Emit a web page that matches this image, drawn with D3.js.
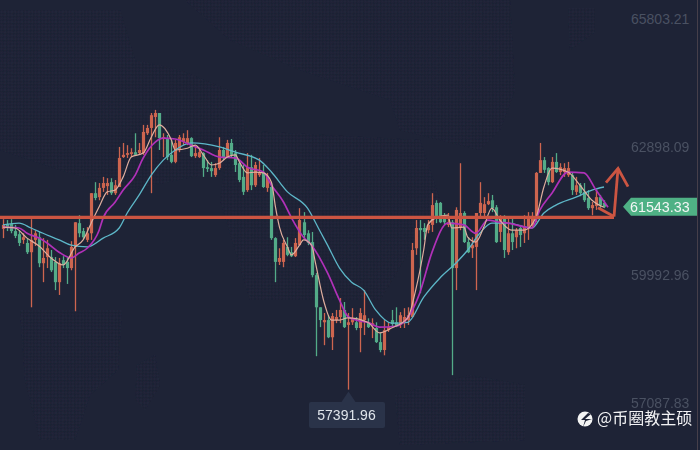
<!DOCTYPE html>
<html><head><meta charset="utf-8">
<style>html,body{margin:0;padding:0;background:#1e2336;overflow:hidden}svg{display:block}</style>
<script src="https://cdn.jsdelivr.net/npm/d3@7"></script></head><body>
<svg id="c" width="700" height="450"></svg>
<script>
const opens=[61040,61150,61150,60990,60920,60790,60720,60510,60790,60850,60260,60400,60400,60290,59830,60330,60290,60150,60630,61170,60990,60790,60940,61850,61760,61970,62010,62100,61850,61990,62670,62720,62740,62780,62760,62760,63210,63330,63580,63670,63080,63100,62720,62560,62830,63010,62990,63100,62690,62670,62760,62440,62420,62260,62420,62830,62670,62990,62760,62530,62220,61920,62440,62030,62260,62310,61970,61990,60830,60290,60290,60630,60510,60420,60670,61190,60940,60740,59990,59260,58920,58970,58580,58970,59040,59200,58860,58920,58920,58790,58970,58920,58860,58790,58470,58290,58740,58970,58920,58860,58920,58970,59040,60600,61060,61060,61010,61130,61630,61630,61280,61130,61190,60150,61080,61400,60740,60600,60630,61400,61400,61600,61690,61530,60970,61280,60510,60940,60850,61060,60940,61060,61100,61280,62310,62600,62420,62100,62560,62330,62330,62260,62260,61880,62030,61880,61740,61510,61560,61760,61630];
const highs=[61260,61240,61260,61130,61010,60940,60830,61260,61010,60970,60830,60790,60560,60400,60380,60420,60400,60760,61190,61350,61060,61080,61850,62100,62080,62220,62190,62190,62150,62900,62990,62940,62870,63210,62990,63400,63400,63670,63740,63670,63210,63170,63060,63060,63170,63210,63280,63120,62900,62870,62780,62600,62560,62530,63120,62900,63060,63080,62830,62560,62490,62760,62720,62560,62650,62490,62310,62080,60850,60600,60790,60850,60630,60830,61510,61420,61010,60970,60040,59260,59130,59080,59130,59200,59470,59380,59130,59240,59040,59240,59650,59010,59010,58920,58680,58970,58920,59200,59260,59150,59240,59260,60720,61240,61240,61170,61240,61850,61690,61650,61400,61400,61240,61530,62530,61440,60850,60850,61400,62100,61760,61850,61810,61580,61350,61350,61280,61280,61060,61130,61350,61420,61420,62330,62990,62670,62440,62670,62760,62530,62530,62560,62310,62220,62080,62080,61920,61650,61920,61810,61690];
const lows=[60830,60990,60940,60830,60650,60700,60470,59260,60650,60170,59830,60150,60060,59650,59540,60150,59790,60100,59170,60850,60810,60740,60790,61690,61690,61880,61810,61810,61810,61990,62650,62650,62670,62720,62720,62720,63170,61850,63120,62830,62670,62600,62530,62530,62780,62940,62940,62670,62650,62650,62220,62330,62220,62220,62380,62600,62650,62650,62330,62100,61810,61880,61920,61990,62220,61970,61880,60790,59830,60220,60170,60420,60400,60400,60670,60830,60670,59940,58150,58810,58400,58560,58290,58900,58900,58790,57391.96,58860,58740,58240,58630,58790,58560,58450,58240,58170,58700,58810,58810,58790,58790,58860,59020,60450,59580,60790,60940,60970,61170,61170,61150,61080,57720,59650,61010,60720,60490,60380,59650,61310,61310,61580,61420,60720,60740,60380,60450,60560,60600,60630,60720,60790,61060,61190,62310,62310,62030,62080,62310,62260,62220,62220,61810,61810,61780,61650,61470,61350,61470,61510,61510];
const closes=[61130,61060,60990,60880,60720,60850,60510,60790,60940,60260,60380,60600,60100,59830,60260,60220,60150,60630,61190,60940,60850,60940,61850,61740,61970,62080,62080,61850,62030,62650,62720,62760,62780,62720,62830,63240,63330,63620,63670,63100,63120,62670,62560,62990,63120,63100,63100,62690,62760,62780,62420,62400,62350,62420,62830,62670,62990,62720,62490,62150,61880,62440,62030,62490,62330,61990,62220,60830,60290,60380,60720,60450,60420,60720,61240,60900,60720,59990,59260,58970,58970,58580,59060,59040,59200,58810,58920,58990,58790,59130,59080,58810,58900,58470,58290,58740,58810,58880,58830,59080,59040,59080,60560,61060,61010,60970,61130,61580,61280,61190,61190,61190,60150,61470,61400,60740,60510,60670,61400,61630,61600,61670,61510,60740,61280,60560,60940,60740,61010,60900,61080,61280,61280,62310,62600,62380,62100,62560,62330,62440,62420,62420,61920,62030,61850,61690,61510,61580,61760,61580,61543.33];

const fastIdx=[0,3,6,9,12,15,18,20,22,24,26,28,30,32,35,37,39,42,43,46,48,50,52,54,56,58,59,61,63,65,67,68,69,71,72,74,75,77,78,80,82,84,86,91,94,97,101,103,105,106,108,111,112,115,116,118,120,122,124,127,130,133,135,137,141,144,147,150];
const fastVal=[61080,61060,60830,60650,60380,60220,60630,60790,61170,61540,61880,61920,62220,62670,62760,63120,63400,63060,62830,62870,62940,62720,62490,62530,62670,62720,62560,62310,62330,62310,62100,61540,61080,60630,60450,60670,60790,60670,60260,59420,58970,58970,59020,58920,58680,58790,59020,59650,60560,61130,61290,61350,61060,61080,60850,60740,61080,61510,61240,61010,61010,61290,61990,62420,62330,62030,61690,61530];
const midIdx=[0,4,6,9,11,14,17,19,21,24,25,28,30,33,35,38,40,43,47,50,54,58,61,65,67,70,72,75,77,81,84,86,88,91,94,98,101,104,107,111,115,118,121,124,126,132,134,137,141,145,148,151];
const midVal=[61080,61060,60940,60830,60720,60510,60380,60490,60600,61010,61290,61650,61920,62260,62650,63010,63100,63080,62940,62830,62670,62650,62440,62330,62030,61650,61290,60850,60670,60040,59420,59060,58970,58920,58810,58830,59020,59580,60490,61170,61130,60940,61240,61190,61170,61060,61470,61850,62330,62310,61920,61530];
const slowIdx=[0,4,7,10,14,17,21,25,29,31,34,37,40,43,47,54,58,64,67,71,76,79,81,84,87,90,93,97,101,105,109,113,116,119,122,126,132,135,138,143,147,150];
const slowVal=[61130,61170,61060,60940,60790,60670,60630,60830,61060,61400,61810,62260,62600,62830,62990,62900,62780,62600,62330,61880,61510,61010,60670,60150,59830,59650,59200,58900,58920,59490,59920,60260,60560,60940,61170,61170,61060,61400,61580,61760,61920,61990];

const tickLabels=["65803.21","62898.09","59992.96","57087.83"];
const lastPrice=61543.33, lowPrice=57391.96, lowIndex=86;
const supportPrice=61300;
const downArrowIdx=[148.5,152.5], downArrowVal=[61520,61320];
const upArrowIdx=[152.5,153.5], upArrowVal=[61320,62410];
const headIdx=[150.5,153.5,156], headVal=[62090,62410,62000];
const watermark="@币圈教主硕";

const svg=d3.select("#c");
const W=700,H=450;
const x=d3.scaleLinear().domain([0,150]).range([3,604]);
const y=d3.scaleLinear().domain([57087.83,65803.21]).range([403,19]);
const RED="#cd6550",GREEN="#52ab88",LINE="#cc5542";

svg.append("rect").attr("width",W).attr("height",H).attr("fill","#1e2336");

const defs=svg.append("defs");
const pat=defs.append("pattern").attr("id","dots").attr("width",3.4).attr("height",3.4).attr("patternUnits","userSpaceOnUse");
pat.append("rect").attr("width",3.4).attr("height",3.4).attr("fill","#1c2133");
pat.append("rect").attr("x",0.6).attr("y",0.6).attr("width",2).attr("height",2).attr("fill","#232a3e");
defs.append("filter").attr("id","soft").attr("x","-5%").attr("y","-5%").attr("width","110%").attr("height","110%")
 .append("feGaussianBlur").attr("stdDeviation",0.3);
const land=["M0,10 L120,10 L135,60 L180,70 L240,95 L250,165 L130,190 L60,170 L0,150Z",
"M185,0 L510,0 L515,90 L500,130 L480,150 L400,130 L390,100 L300,70 L230,40Z",
"M20,310 L122,310 L118,370 L90,395 L75,440 L40,440 L25,380Z",
"M137,365 L155,355 L160,385 L145,410 L135,400Z",
"M568,8 L595,8 L595,32 L570,50Z",
"M395,395 L470,375 L525,385 L525,440 L400,445Z",
"M230,130 L420,140 L440,200 L380,300 L250,300 L220,200Z"];
svg.append("g").attr("filter","url(#soft)").selectAll("path").data(land).join("path").attr("d",d=>d).attr("fill","url(#dots)").attr("opacity",.5);

const chart=svg.append("g").attr("filter","url(#soft)");
const candles=d3.range(opens.length).map(i=>({i,o:opens[i],h:highs[i],l:lows[i],c:closes[i]}));
const col=d=>d.c>=d.o?RED:GREEN;
const g=chart.append("g");
g.selectAll("line").data(candles).join("line")
 .attr("x1",d=>Math.round(x(d.i))+0.5).attr("x2",d=>Math.round(x(d.i))+0.5).attr("y1",d=>y(d.h)).attr("y2",d=>y(d.l))
 .attr("stroke",col).attr("stroke-width",1.3);
g.selectAll("rect").data(candles).join("rect")
 .attr("x",d=>Math.round(x(d.i))+0.5-1.6).attr("width",3.2)
 .attr("y",d=>y(Math.max(d.o,d.c)))
 .attr("height",d=>Math.max(1.2,Math.abs(y(d.o)-y(d.c))))
 .attr("fill",col);

const lineGen=d3.line().x(d=>x(d[0])).y(d=>y(d[1])).curve(d3.curveMonotoneX);
[[slowIdx,slowVal,"#5db7c8",1.3],[midIdx,midVal,"#b030b8",1.7],[fastIdx,fastVal,"#dfae9e",1.2]].forEach(([a,b,c,w])=>{
 chart.append("path").attr("d",lineGen(d3.zip(a,b))).attr("fill","none").attr("stroke",c).attr("stroke-width",w);
});

chart.append("line").attr("x1",0).attr("x2",x(152.5)).attr("y1",y(supportPrice)).attr("y2",y(supportPrice))
 .attr("stroke",LINE).attr("stroke-width",3.4);
const straight=d3.line().x(d=>x(d[0])).y(d=>y(d[1]));
[[downArrowIdx,downArrowVal],[upArrowIdx,upArrowVal],[headIdx,headVal]].forEach(([a,b])=>{
 chart.append("path").attr("d",straight(d3.zip(a,b))).attr("fill","none").attr("stroke",LINE)
  .attr("stroke-width",2.8).attr("stroke-linejoin","miter");
});

const axis=d3.axisRight(y).tickValues(tickLabels.map(Number)).tickSize(0).tickPadding(0).tickFormat(d=>d.toFixed(2));
const ax=svg.append("g").attr("transform","translate(631,0)").call(axis);
ax.select(".domain").remove();
ax.selectAll("text").attr("fill","#4a5162").attr("font-family","'Liberation Sans',Arial,sans-serif").attr("font-size",14);

const ly=y(lastPrice);
svg.append("path").attr("d",`M623,${ly} L631,${ly-9} L697,${ly-9} L697,${ly+9} L631,${ly+9}Z`).attr("fill","#4fb185");
svg.append("text").attr("x",630).attr("y",ly+5).attr("fill","#f2f6f4").attr("font-family","'Liberation Sans',Arial,sans-serif").attr("font-size",14.3).text(lastPrice.toFixed(2));

const lx=Math.round(x(lowIndex))+0.5,lowY=y(lowPrice);
svg.append("path").attr("d",`M${lx-7},402 L${lx},${lowY+2} L${lx+7},402Z`).attr("fill","#2a3349");
svg.append("rect").attr("x",309).attr("y",402).attr("width",76).attr("height",26).attr("rx",2).attr("fill","#2a3349");
svg.append("text").attr("x",346.5).attr("y",420).attr("text-anchor","middle").attr("fill","#dfe4ea").attr("font-family","'Liberation Sans',Arial,sans-serif").attr("font-size",14).text(lowPrice.toFixed(2));

svg.append("circle").attr("cx",585).attr("cy",419).attr("r",7.5).attr("fill","#f4f4f4");
svg.append("path").attr("d","M588,413 L581,420 L585,420 L583,427 L586,421 L592,419 L585,419 L591,414Z").attr("fill","#1e2336");
svg.append("text").attr("x",597).attr("y",423.5).attr("fill","#f1f1f3").attr("font-family","'Noto Sans CJK SC',sans-serif").attr("font-size",16).text(watermark);

svg.append("rect").attr("x",697).attr("y",0).attr("width",1).attr("height",H).attr("fill","#463f4a");
</script></body></html>
